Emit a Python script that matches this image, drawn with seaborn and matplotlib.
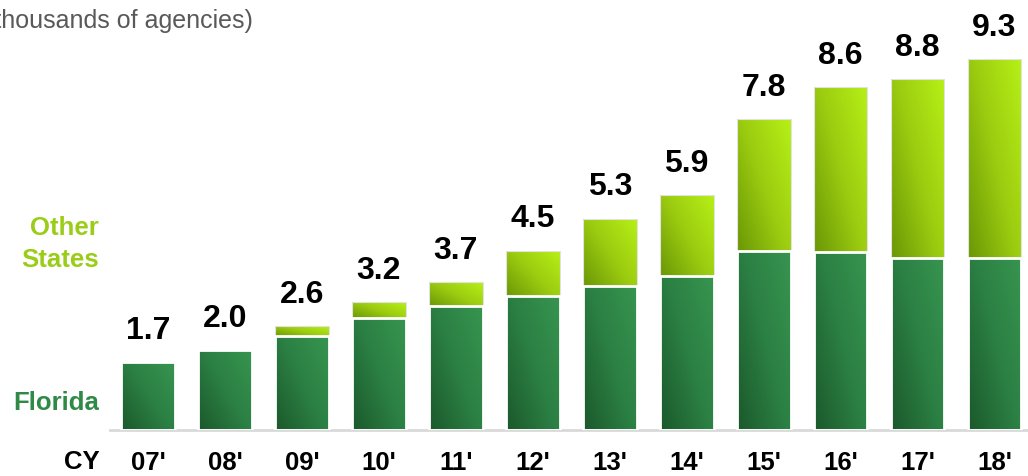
import numpy as np
import pandas as pd
import matplotlib
matplotlib.use("Agg")
import matplotlib.pyplot as plt
import seaborn as sns
from matplotlib.colors import LinearSegmentedColormap

# ---- data ----
years = ["07'", "08'", "09'", "10'", "11'", "12'", "13'", "14'", "15'", "16'", "17'", "18'"]
totals = [1.7, 2.0, 2.6, 3.2, 3.7, 4.5, 5.3, 5.9, 7.8, 8.6, 8.8, 9.3]
florida = [1.7, 2.0, 2.35, 2.8, 3.1, 3.35, 3.6, 3.85, 4.5, 4.45, 4.3, 4.3]
series_labels = ["Other\nStates", "Florida"]
axis_prefix = "CY"
unit_title = "(thousands of agencies)"

sns.set_theme(style="white")
plt.rcParams["font.family"] = ["Liberation Sans", "DejaVu Sans"]

W, H = 1028, 476
fig = plt.figure(figsize=(W / 100, H / 100), dpi=100)
ax = fig.add_axes([110 / W, 46 / H, 918 / W, 430 / H])

df = pd.DataFrame({"year": years, "total": totals, "florida": florida})

sns.barplot(data=df, x="year", y="total", color="#9bcc10", saturation=1,
            width=0.70, ax=ax, edgecolor="#e2e2e2", linewidth=0.8)
sns.barplot(data=df, x="year", y="florida", color="#2e8a48", saturation=1,
            width=0.70, ax=ax, edgecolor="white", linewidth=2.0)

cm_other = LinearSegmentedColormap.from_list("oth", ["#6a9706", "#9ccc10", "#b6f016"])
cm_flor = LinearSegmentedColormap.from_list("flo", ["#1b582b", "#2b7f43", "#37954f"])

n = len(years)
patches = list(ax.patches)
tot_patches = patches[:n]
flo_patches = patches[n:2 * n]

u = np.linspace(0, 1, 64)
v = np.linspace(0, 1, 128)
U, V = np.meshgrid(u, v)
grad = (U * 0.55 + V * 0.45)

for i in range(n):
    tp = tot_patches[i]
    fp = flo_patches[i]
    x0 = tp.get_x()
    x1 = x0 + tp.get_width()
    if totals[i] - florida[i] > 1e-6:
        im = ax.imshow(grad, cmap=cm_other, origin="lower", aspect="auto",
                       extent=(x0, x1, florida[i], totals[i]), zorder=1, interpolation="bilinear")
        im.set_clip_path(tp)
    im2 = ax.imshow(grad, cmap=cm_flor, origin="lower", aspect="auto",
                    extent=(x0, x1, 0, florida[i]), zorder=1, interpolation="bilinear")
    im2.set_clip_path(fp)
    tp.set_facecolor("none")
    fp.set_facecolor("none")
    tp.set_zorder(2)
    fp.set_zorder(3)

for i, t in enumerate(totals):
    ax.text(i, t + 0.58, f"{t:.1f}", ha="center", va="baseline",
            fontsize=23, fontweight="bold", color="black")

ax.set_xlim(-0.494, 11.436)
ax.set_ylim(0, 10.78)
ax.set_xlabel("")
ax.set_ylabel("")
ax.set_yticks([])
ax.set_xticks(range(n))
ax.set_xticklabels(years, fontsize=18.5, fontweight="bold", color="black")
ax.tick_params(axis="x", length=0, pad=15)
for s in ["top", "right", "left"]:
    ax.spines[s].set_visible(False)
ax.spines["bottom"].set_color("#d9d9d9")
ax.spines["bottom"].set_linewidth(2)
ax.grid(False)

fig.text(81.5 / W, 1 - 462 / H, axis_prefix, ha="center", va="center",
         fontsize=18.5, fontweight="bold", color="black")
fig.text(99 / W, 1 - 244 / H, series_labels[0], ha="right", va="center",
         fontsize=18.5, fontweight="bold", color="#9acd17", linespacing=1.4)
fig.text(99 / W, 1 - 403 / H, series_labels[1], ha="right", va="center",
         fontsize=18.5, fontweight="bold", color="#2f8a47")
fig.text(253 / W, 1 - 21 / H, unit_title, ha="right", va="center",
         fontsize=18, color="#595959")

fig.savefig("out.png", dpi=100)
